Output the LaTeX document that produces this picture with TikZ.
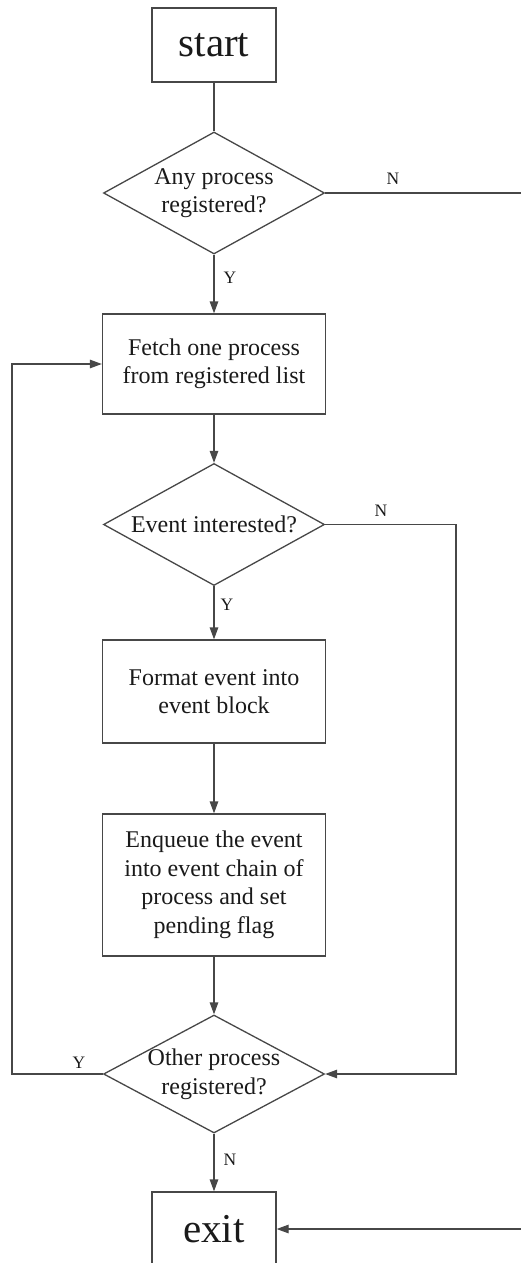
\documentclass[tikz,border=0pt]{standalone}
\usepackage{fontspec}
\setmainfont{Liberation Serif}
\usetikzlibrary{shapes.geometric,arrows.meta}
\definecolor{linegray}{HTML}{474747}
\definecolor{inkdark}{HTML}{1A1A1A}
\begin{document}
\begin{tikzpicture}[x=1pt,y=-1pt,
  every node/.style={text=inkdark},
  box/.style={draw=linegray, line width=1.3pt, rectangle, inner sep=0pt, align=center,
    font=\fontsize{24}{28.5}\selectfont},
  bigbox/.style={box, minimum width=124pt, minimum height=74pt, font=\fontsize{41}{45}\selectfont},
  stepbox/.style={box, minimum width=223pt},
  decision/.style={draw=linegray, line width=1.3pt, diamond, inner sep=0pt,
    minimum width=221pt, minimum height=122pt},
  dtext/.style={inner sep=0pt, align=center, font=\fontsize{24}{28.5}\selectfont},
  tag/.style={inner sep=0pt, font=\fontsize{17.5}{20}\selectfont},
  link/.style={draw=linegray, line width=1.3pt},
  arrow/.style={link, -{Triangle[length=12pt,width=8.5pt]}}
]
\useasboundingbox (0,0) rectangle (520,1263);

% terminals
\node[bigbox] (start) at (214,45) {start};
\node[bigbox] (exit) at (214,1229) {exit};

% decisions (shape plus its text on top)
\node[decision] (q1) at (214,193) {};
\node[dtext] (q1t) at (q1) {Any process\\registered?};
\node[decision] (q2) at (214,524.5) {};
\node[dtext] (q2t) at (q2) {Event interested?};
\node[decision, minimum height=118pt] (q3) at (214,1074) {};
\node[dtext] (q3t) at (q3) {Other process\\registered?};

% processing steps
\node[stepbox, minimum height=100pt] (fetch) at (214,364) {Fetch one process\\from registered list};
\node[stepbox, minimum height=103pt] (fmt) at (214,691.5) {Format event into\\event block};
\node[stepbox, minimum height=142pt] (enq) at (214,885) {Enqueue the event\\into event chain of\\process and set\\pending flag};

% free ends running off the right edge
\coordinate (nEdge) at (526,193);
\coordinate (xEdge) at (526,1229);

% connectors
\draw[link] (start) -- (q1.north);
\draw[arrow] (q1.south) -- (fetch.north);
\draw[link] (q1.east) -- (nEdge);
\draw[arrow] (fetch.south) -- (q2.north);
\draw[arrow] (q2.south) -- (fmt.north);
\draw[arrow] (q2.east) -- (456,524.5) |- (q3.east);
\draw[arrow] (fmt.south) -- (enq.north);
\draw[arrow] (enq.south) -- (q3.north);
\draw[arrow] (q3.west) -- (12,1074) |- (fetch.west);
\draw[arrow] (q3.south) -- (exit.north);
\draw[arrow] (xEdge) -- (exit.east);

% branch labels
\node[tag] (y1) at (230,278) {Y};
\node[tag] (n1) at (393,179) {N};
\node[tag] (n2) at (381,511) {N};
\node[tag] (y2) at (227,605) {Y};
\node[tag] (y3) at (79,1063) {Y};
\node[tag] (n3) at (230,1160) {N};
\end{tikzpicture}
\end{document}
